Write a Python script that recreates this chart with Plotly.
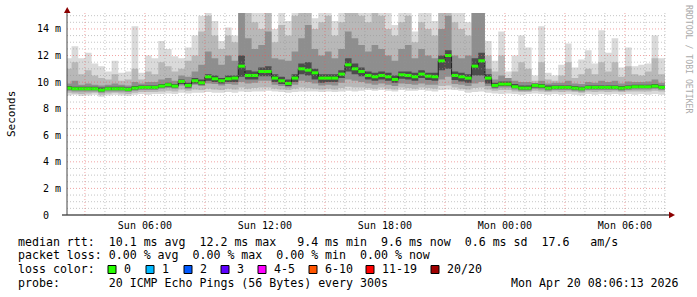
import plotly.graph_objects as go
import pandas as pd

# ---------------- data (20-minute steps, Sun 02:00 .. Mon 08:00) ----------------
start_time = "2026-04-19 02:00"
n_steps = 91
step = "20min"

median_rtt = [9.55, 9.5, 9.5, 9.5, 9.5, 9.4, 9.5, 9.5, 9.5, 9.45, 9.55,
              9.6, 9.6, 9.6, 9.7, 9.8, 9.7, 10.05, 9.75, 10.1, 9.95,
              10.4, 10.25, 10.1, 10.25, 10.3, 11.2, 10.5, 10.5, 10.8, 10.8,
              10.3, 10.1, 9.9, 10.3, 11.0, 10.9, 10.7, 10.3, 10.3, 10.3,
              10.6, 11.3, 11.0, 10.8, 10.5, 10.4, 10.5, 10.4, 10.2, 10.55,
              10.5, 10.4, 10.6, 10.45, 10.4, 11.6, 12.0, 10.5, 10.4, 10.3,
              11.2, 11.6, 10.3, 9.75, 9.85, 9.85, 9.65, 9.55, 9.55, 9.75,
              9.7, 9.55, 9.6, 9.6, 9.6, 9.55, 9.5, 9.6, 9.6, 9.6,
              9.6, 9.6, 9.55, 9.6, 9.65, 9.65, 9.65, 9.7, 9.6, 9.6]

max_rtt = [11.8, 12.7, 11.8, 12.2, 11.4, 11.2, 10.8, 11.6, 10.7, 10.8, 14.2,
           10.7, 12.0, 11.8, 13.1, 12.5, 11.95, 11.8, 12.6, 13.5, 15.0,
           15.5, 14.6, 13.1, 14.1, 13.5, 15.5, 15.5, 15.5, 15.5, 15.5,
           14.0, 15.5, 14.6, 15.5, 15.5, 15.5, 14.8, 15.5, 15.5, 14.6,
           15.5, 15.5, 15.5, 15.5, 15.5, 15.5, 15.5, 15.5, 14.3, 15.5,
           15.5, 13.8, 15.5, 15.5, 14.6, 15.5, 15.5, 15.5, 15.5, 14.5,
           15.5, 15.5, 13.1, 11.6, 13.8, 10.8, 12.0, 13.5, 12.6, 10.5,
           14.2, 10.7, 10.5, 11.3, 12.9, 11.1, 11.7, 12.4, 11.4, 13.9,
           12.2, 13.3, 11.1, 12.6, 11.2, 11.3, 11.4, 13.5, 11.8, 11.8]

min_rtt = [9.0, 9.05, 8.95, 9.0, 9.05, 8.9, 9.0, 9.05, 9.0, 8.95, 9.05,
           9.1, 9.05, 9.1, 9.1, 9.15, 9.1, 9.2, 9.15, 9.2, 9.2,
           9.25, 9.2, 9.2, 9.25, 9.2, 9.3, 9.25, 9.3, 9.3, 9.35,
           9.3, 9.25, 9.2, 9.25, 9.3, 9.3, 9.3, 9.25, 9.3, 9.25,
           9.3, 9.35, 9.3, 9.35, 9.4, 9.35, 9.4, 9.35, 9.3, 9.4,
           9.35, 9.35, 9.4, 9.35, 9.3, 9.4, 9.45, 9.4, 9.35, 9.2,
           9.25, 9.3, 9.2, 9.15, 9.1, 9.15, 9.1, 9.05, 9.1, 9.15,
           9.1, 9.05, 9.1, 9.05, 9.1, 9.05, 9.0, 9.1, 9.05, 9.1,
           9.05, 9.1, 9.05, 9.1, 9.05, 9.1, 9.05, 9.1, 9.05, 9.05]

smoke2_hi = [11.0, 11.5, 10.6, 10.9, 10.5, 10.3, 10.2, 10.6, 10.1, 10.2, 11.0,
             10.2, 10.8, 10.6, 11.5, 11.2, 10.8, 11.0, 11.6, 12.0, 13.8,
             15.0, 13.5, 12.5, 13.5, 13.0, 15.5, 15.5, 14.5, 14.0, 15.5,
             13.0, 14.3, 13.5, 15.0, 15.5, 15.5, 14.0, 14.5, 15.0, 13.5,
             14.5, 15.5, 15.5, 15.0, 14.5, 15.5, 15.0, 14.0, 13.5, 14.5,
             15.0, 13.0, 14.5, 14.0, 13.5, 15.5, 15.5, 14.5, 14.0, 13.5,
             15.5, 15.5, 12.0, 10.8, 12.0, 10.3, 10.8, 11.5, 11.0, 10.1,
             11.5, 10.2, 10.1, 10.5, 11.5, 10.3, 10.6, 11.0, 10.6, 11.5,
             10.8, 11.5, 10.4, 11.2, 10.6, 10.5, 10.8, 11.8, 10.6, 10.6]

smoke2_lo = [9.2, 9.15, 9.1, 9.15, 9.2, 9.05, 9.15, 9.2, 9.15, 9.1, 9.2,
             9.25, 9.25, 9.25, 9.3, 9.35, 9.3, 9.45, 9.35, 9.45, 9.4,
             9.5, 9.45, 9.4, 9.5, 9.45, 9.6, 9.5, 9.55, 9.6, 9.6,
             9.5, 9.45, 9.4, 9.5, 9.6, 9.55, 9.5, 9.45, 9.5, 9.45,
             9.55, 9.65, 9.6, 9.6, 9.55, 9.5, 9.6, 9.5, 9.45, 9.6,
             9.55, 9.5, 9.6, 9.55, 9.5, 9.7, 9.75, 9.6, 9.5, 9.45,
             9.55, 9.6, 9.45, 9.35, 9.4, 9.4, 9.3, 9.25, 9.25, 9.35,
             9.3, 9.25, 9.3, 9.25, 9.3, 9.25, 9.2, 9.3, 9.25, 9.3,
             9.25, 9.3, 9.25, 9.3, 9.3, 9.3, 9.3, 9.35, 9.3, 9.3]

smoke3_hi = [9.9, 10.1, 9.8, 9.9, 9.8, 9.75, 9.8, 9.9, 9.8, 9.75, 10.0,
             9.9, 10.0, 10.0, 10.2, 10.3, 10.1, 10.5, 10.4, 10.8, 11.3,
             12.3, 11.8, 11.3, 12.0, 11.6, 15.5, 13.3, 12.5, 12.8, 13.8,
             11.8, 11.7, 11.6, 12.3, 13.3, 14.3, 12.5, 12.0, 12.3, 11.8,
             12.5, 13.8, 13.3, 12.8, 12.3, 12.8, 12.5, 12.0, 11.6, 12.5,
             12.8, 11.8, 12.5, 12.0, 11.8, 14.0, 15.0, 12.0, 11.8, 12.0,
             15.5, 15.5, 11.0, 10.2, 10.5, 10.3, 10.1, 10.0, 10.0, 9.9,
             10.1, 9.9, 9.95, 9.95, 10.1, 9.9, 9.85, 10.0, 9.95, 10.1,
             10.0, 10.1, 9.9, 10.05, 10.0, 10.0, 10.05, 10.2, 9.95, 9.95]

smoke3_lo = [9.35, 9.3, 9.3, 9.3, 9.3, 9.2, 9.3, 9.3, 9.3, 9.25, 9.35,
             9.4, 9.4, 9.4, 9.5, 9.55, 9.5, 9.75, 9.5, 9.8, 9.7,
             9.9, 9.85, 9.75, 9.85, 9.8, 10.0, 9.9, 9.95, 10.1, 10.1,
             9.8, 9.7, 9.6, 9.8, 10.1, 10.0, 9.9, 9.75, 9.8, 9.75,
             9.95, 10.2, 10.1, 10.0, 9.9, 9.8, 9.9, 9.8, 9.7, 9.9,
             9.85, 9.8, 9.9, 9.8, 9.8, 10.2, 10.4, 9.85, 9.8, 9.7,
             9.9, 10.0, 9.7, 9.5, 9.6, 9.6, 9.45, 9.35, 9.35, 9.5,
             9.45, 9.35, 9.4, 9.4, 9.4, 9.35, 9.3, 9.4, 9.4, 9.4,
             9.4, 9.4, 9.35, 9.4, 9.45, 9.45, 9.45, 9.5, 9.4, 9.4]

smoke4_hi = [9.7, 9.65, 9.65, 9.65, 9.65, 9.6, 9.65, 9.65, 9.65, 9.6, 9.7,
             9.75, 9.75, 9.75, 9.85, 9.95, 9.85, 10.2, 9.95, 10.3, 10.2,
             10.6, 10.5, 10.3, 10.5, 10.5, 12.0, 10.9, 10.8, 11.1, 11.2,
             10.6, 10.4, 10.2, 10.6, 11.4, 11.5, 11.0, 10.6, 10.6, 10.6,
             10.9, 11.8, 11.4, 11.1, 10.8, 10.7, 10.8, 10.7, 10.5, 10.8,
             10.8, 10.7, 10.9, 10.7, 10.7, 12.0, 12.4, 10.8, 10.7, 10.6,
             11.8, 12.2, 10.6, 9.95, 10.05, 10.05, 9.85, 9.75, 9.75, 9.9,
             9.85, 9.75, 9.75, 9.75, 9.75, 9.7, 9.65, 9.75, 9.75, 9.75,
             9.75, 9.75, 9.7, 9.75, 9.8, 9.8, 9.8, 9.85, 9.75, 9.75]

smoke4_lo = [9.45, 9.4, 9.4, 9.4, 9.4, 9.3, 9.4, 9.4, 9.4, 9.35, 9.45,
             9.5, 9.5, 9.5, 9.6, 9.65, 9.6, 9.85, 9.6, 9.9, 9.8,
             10.1, 10.0, 9.9, 10.0, 10.0, 10.4, 10.2, 10.2, 10.45, 10.45,
             10.0, 9.85, 9.7, 10.0, 10.6, 10.5, 10.2, 9.95, 10.0, 10.0,
             10.3, 10.8, 10.6, 10.45, 10.2, 10.1, 10.2, 10.1, 9.95, 10.25,
             10.2, 10.1, 10.3, 10.15, 10.1, 10.9, 11.0, 10.15, 10.05, 9.95,
             10.5, 10.5, 9.9, 9.6, 9.7, 9.7, 9.55, 9.45, 9.45, 9.6,
             9.55, 9.45, 9.5, 9.5, 9.5, 9.45, 9.4, 9.5, 9.5, 9.5,
             9.5, 9.5, 9.45, 9.5, 9.55, 9.55, 9.55, 9.6, 9.5, 9.5]

y_tick_vals = [0, 2, 4, 6, 8, 10, 12, 14]
y_tick_text = ["0\u00a0\u00a0", "2\u00a0m", "4\u00a0m", "6\u00a0m", "8\u00a0m", "10\u00a0m", "12\u00a0m", "14\u00a0m"]
x_tick_vals = ["2026-04-19 06:00", "2026-04-19 12:00", "2026-04-19 18:00",
               "2026-04-20 00:00", "2026-04-20 06:00"]
x_tick_text = ["Sun 06:00", "Sun 12:00", "Sun 18:00", "Mon 00:00", "Mon 06:00"]
x_range = ["2026-04-19 02:06:13", "2026-04-20 08:06:13"]
y_range = [0, 15.2]

legend_lines = [
    "median rtt:  10.1 ms avg  12.2 ms max   9.4 ms min  9.6 ms now  0.6 ms sd  17.6   am/s",
    "packet loss: 0.00 % avg  0.00 % max  0.00 % min  0.00 % now",
    "loss color:",
    "probe:       20 ICMP Echo Pings (56 Bytes) every 300s",
]
loss_labels = ["0", "1", "2", "3", "4-5", "6-10", "11-19", "20/20"]
loss_colors = ["#26ff00", "#00b8ff", "#0059ff", "#5e00ff", "#ff00ff", "#ff5500", "#ff0000", "#a00000"]
timestamp_text = "Mon Apr 20 08:06:13 2026"

# ---------------- figure ----------------
W, H = 697, 297
L, R, T, B = 67, 30, 13, 82
PW, PH = W - L - R, H - T - B
MONO = "DejaVu Sans Mono"

def px(xp):
    return (xp - L) / PW

def py(yp):
    return (H - B - yp) / PH

times = pd.date_range(start_time, periods=n_steps, freq=step)
tstr = times.strftime("%Y-%m-%d %H:%M:%S").tolist()

fig = go.Figure()
bands = [(min_rtt, max_rtt, "#dadada"),
         (smoke2_lo, smoke2_hi, "#b8b8b8"),
         (smoke3_lo, smoke3_hi, "#8e8e8e"),
         (smoke4_lo, smoke4_hi, "#4c4c4c")]
for lo, hi, col in bands:
    fig.add_trace(go.Scatter(x=tstr, y=lo, mode="lines", line=dict(width=0, shape="hv"),
                             showlegend=False, hoverinfo="skip"))
    fig.add_trace(go.Scatter(x=tstr, y=hi, mode="lines", line=dict(width=0, shape="hv"),
                             fill="tonexty", fillcolor=col, showlegend=False, hoverinfo="skip"))

fig.add_trace(go.Scatter(x=tstr, y=median_rtt, mode="lines",
                         line=dict(color="#202020", width=1, shape="hv"),
                         showlegend=False, hoverinfo="skip"))
seg_x, seg_y = [], []
for i in range(n_steps - 1):
    seg_x += [tstr[i], tstr[i + 1], None]
    seg_y += [median_rtt[i], median_rtt[i], None]
fig.add_trace(go.Scatter(x=seg_x, y=seg_y, mode="lines",
                         line=dict(color="#26ff00", width=3),
                         connectgaps=False, showlegend=False, hoverinfo="skip"))

shapes = []
# grid (drawn above the smoke, like rrdtool)
minor_c = "rgba(150,150,150,0.55)"
major_c = "rgba(230,90,90,0.55)"
k = 1
while k * 0.5 <= y_range[1]:
    v = k * 0.5
    col = major_c if v % 2 == 0 else minor_c
    shapes.append(dict(type="line", xref="paper", yref="y", x0=0, x1=1, y0=v, y1=v,
                       line=dict(color=col, width=1, dash="1px,2px"), layer="above"))
    k += 1
grid_times = pd.date_range("2026-04-19 03:00", "2026-04-20 08:00", freq="1h")
for gt in grid_times:
    col = major_c if gt.hour % 3 == 0 else minor_c
    s = gt.strftime("%Y-%m-%d %H:%M:%S")
    shapes.append(dict(type="line", xref="x", yref="paper", x0=s, x1=s, y0=0, y1=1,
                       line=dict(color=col, width=1, dash="1px,2px"), layer="above"))

# axis lines + arrows
shapes.append(dict(type="line", xref="paper", yref="paper", x0=px(62), x1=px(670), y0=0, y1=0,
                   line=dict(color="#000000", width=1), layer="above"))
shapes.append(dict(type="line", xref="paper", yref="paper", x0=0, x1=0, y0=0, y1=py(11),
                   line=dict(color="#444444", width=1), layer="above"))
shapes.append(dict(type="path", xref="paper", yref="paper",
                   path=f"M {px(64)},{py(13)} L {px(70.5)},{py(13)} L {px(67.2)},{py(7)} Z",
                   fillcolor="#8b0000", line=dict(width=0), layer="above"))
shapes.append(dict(type="path", xref="paper", yref="paper",
                   path=f"M {px(669)},{py(211.8)} L {px(669)},{py(218.2)} L {px(675)},{py(215)} Z",
                   fillcolor="#8b0000", line=dict(width=0), layer="above"))

annotations = []
line_y = [241.7, 255.3, 269.3, 282.7]
for txt, yy in zip(legend_lines, line_y):
    annotations.append(dict(text=txt.replace(" ", "\u00a0"), xref="paper", yref="paper",
                            x=px(15.5), y=py(yy), xanchor="left", yanchor="middle",
                            showarrow=False, font=dict(family=MONO, size=11.6, color="#000")))
annotations.append(dict(text=timestamp_text.replace(" ", "\u00a0"), xref="paper", yref="paper",
                        x=px(681), y=py(282.7), xanchor="right", yanchor="middle",
                        showarrow=False, font=dict(family=MONO, size=11.6, color="#000")))
sq_left = [108, 146, 184, 221, 258, 309, 366, 431]
for xl, lab, col in zip(sq_left, loss_labels, loss_colors):
    shapes.append(dict(type="rect", xref="paper", yref="paper",
                       x0=px(xl), x1=px(xl + 8), y0=py(273.5), y1=py(265.5),
                       fillcolor=col, line=dict(color="#000", width=1)))
    annotations.append(dict(text=lab, xref="paper", yref="paper", x=px(xl + 13.5), y=py(269.3),
                            xanchor="left", yanchor="middle", showarrow=False,
                            font=dict(family=MONO, size=11.6, color="#000")))
annotations.append(dict(text="Seconds", xref="paper", yref="paper", x=px(11), y=0.5,
                        textangle=-90, xanchor="center", yanchor="middle", showarrow=False,
                        font=dict(family=MONO, size=11, color="#000")))
annotations.append(dict(text="RRDTOOL / TOBI OETIKER", xref="paper", yref="paper",
                        x=px(689), y=py(59), textangle=90, xanchor="center", yanchor="middle",
                        showarrow=False, font=dict(family=MONO, size=8.2, color="#aaaaaa")))

fig.update_layout(
    width=W, height=H, margin=dict(l=L, r=R, t=T, b=B, pad=0),
    paper_bgcolor="#ffffff", plot_bgcolor="#ffffff",
    showlegend=False, shapes=shapes, annotations=annotations,
    xaxis=dict(type="date", range=x_range, showgrid=False, zeroline=False, showline=False,
               tickvals=x_tick_vals, ticktext=x_tick_text, ticks="", ticklabelstandoff=3,
               tickfont=dict(family=MONO, size=10, color="#000")),
    yaxis=dict(range=y_range, showgrid=False, zeroline=False, showline=False,
               tickvals=y_tick_vals, ticktext=y_tick_text, ticks="", ticklabelstandoff=5,
               tickfont=dict(family=MONO, size=10, color="#000")),
)
fig.write_html("out.html")
